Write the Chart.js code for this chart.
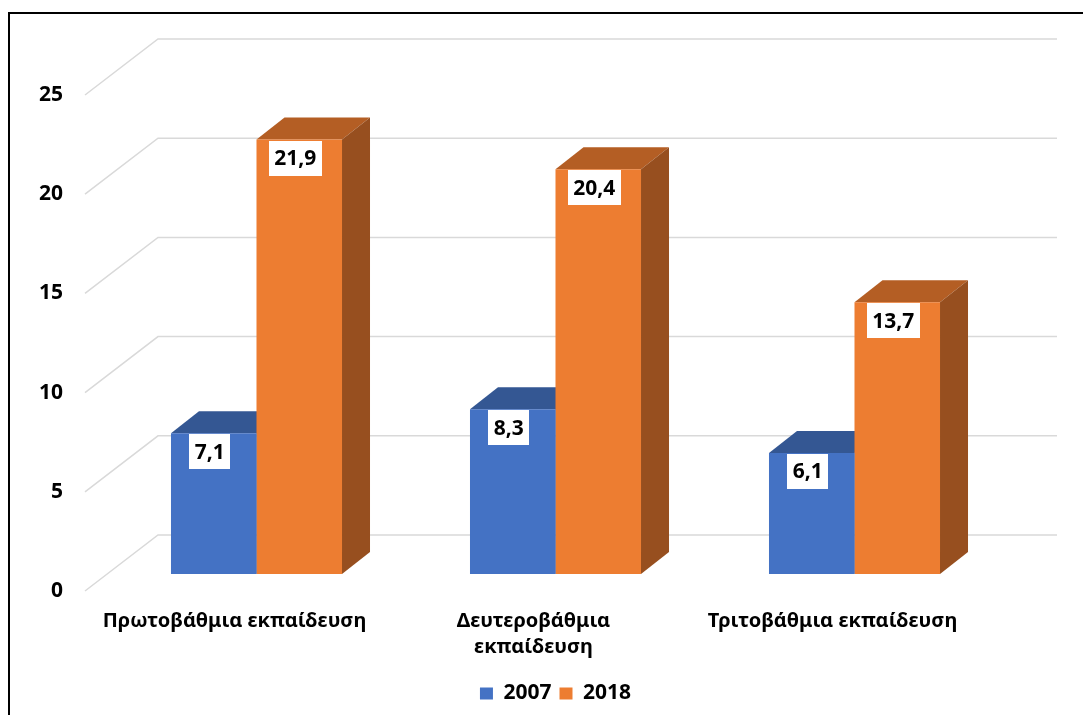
<!DOCTYPE html>
<html>
<head>
<meta charset="utf-8">
<script src="https://cdn.jsdelivr.net/npm/chart.js@4/dist/chart.umd.min.js"></script>
<style>
  html, body { margin: 0; padding: 0; background: #fff; }
  #wrap { position: relative; width: 1083px; height: 715px; }
</style>
</head>
<body>
<div id="wrap"><canvas id="c" width="1083" height="715"></canvas></div>
<script>
// Education level categories and the two survey years
const categories = [
  'Πρωτοβάθμια εκπαίδευση',
  ['Δευτεροβάθμια', 'εκπαίδευση'],
  'Τριτοβάθμια εκπαίδευση'
];
const years = ['2007', '2018'];
const values2007 = [7.1, 8.3, 6.1];
const values2018 = [21.9, 20.4, 13.7];
const yTicks = [0, 5, 10, 15, 20, 25];

const FONT = '"Noto Sans", "DejaVu Sans", sans-serif';

// Oblique 3D geometry (pixel offsets relative to the bar front plane)
const FLOOR_FRONT = { dx: -22, dy: 17 };   // front edge of the floor / axis plane
const BACK_WALL = { dx: 51, dy: -39 };     // back wall carrying the gridlines
const BAR_DEPTH = { dx: 28, dy: -22 };     // depth of each bar

const faceColors = [
  { front: '#4472C4', top: '#345793', side: '#2E4F87' },
  { front: '#ED7D31', top: '#B45E24', side: '#974F1F' }
];

function fmt(v) { return v.toFixed(1).replace('.', ','); }

const frame = {
  id: 'frame',
  beforeDraw(chart) {
    const ctx = chart.ctx;
    ctx.save();
    ctx.strokeStyle = '#000';
    ctx.lineWidth = 2;
    ctx.beginPath();
    ctx.moveTo(9, 715);
    ctx.lineTo(9, 13);
    ctx.lineTo(1083, 13);
    ctx.stroke();
    ctx.restore();
  }
};

const threeD = {
  id: 'threeD',
  beforeDatasetsDraw(chart) {
    const ctx = chart.ctx;
    const y = chart.scales.y;
    const area = chart.chartArea;
    ctx.save();
    // back wall gridlines and their diagonals on the side wall
    ctx.strokeStyle = '#D9D9D9';
    ctx.lineWidth = 1.5;
    y.ticks.forEach(t => {
      const py = y.getPixelForValue(t.value);
      ctx.beginPath();
      ctx.moveTo(area.left + FLOOR_FRONT.dx, py + FLOOR_FRONT.dy);
      ctx.lineTo(area.left + BACK_WALL.dx, py + BACK_WALL.dy);
      ctx.lineTo(area.right + BACK_WALL.dx + 2, py + BACK_WALL.dy);
      ctx.stroke();
    });
    // top and side faces of every bar, drawn before the front faces
    const n = chart.data.labels.length;
    for (let i = 0; i < n; i++) {
      chart.data.datasets.forEach((ds, di) => {
        const bar = chart.getDatasetMeta(di).data[i];
        const { x, y: top, width, base } = bar.getProps(['x', 'y', 'width', 'base'], true);
        const l = x - width / 2, r = x + width / 2;
        const c = faceColors[di];
        ctx.fillStyle = c.top;
        ctx.beginPath();
        ctx.moveTo(l, top);
        ctx.lineTo(l + BAR_DEPTH.dx, top + BAR_DEPTH.dy);
        ctx.lineTo(r + BAR_DEPTH.dx, top + BAR_DEPTH.dy);
        ctx.lineTo(r, top);
        ctx.closePath();
        ctx.fill();
        ctx.fillStyle = c.side;
        ctx.beginPath();
        ctx.moveTo(r, top);
        ctx.lineTo(r + BAR_DEPTH.dx, top + BAR_DEPTH.dy);
        ctx.lineTo(r + BAR_DEPTH.dx, base + BAR_DEPTH.dy);
        ctx.lineTo(r, base);
        ctx.closePath();
        ctx.fill();
      });
    }
    ctx.restore();
  },
  afterDatasetsDraw(chart) {
    const ctx = chart.ctx;
    ctx.save();
    ctx.font = 'bold 21px ' + FONT;
    ctx.textAlign = 'center';
    ctx.textBaseline = 'middle';
    chart.data.datasets.forEach((ds, di) => {
      chart.getDatasetMeta(di).data.forEach((bar, i) => {
        const { x, y: top } = bar.getProps(['x', 'y'], true);
        const txt = fmt(ds.data[i]);
        const w = ctx.measureText(txt).width + 11;
        const h = 35;
        const cx = x - 4;
        const by = top + 1;
        ctx.fillStyle = '#fff';
        ctx.fillRect(Math.round(cx - w / 2), Math.round(by), Math.round(w), h);
        ctx.fillStyle = '#000';
        ctx.fillText(txt, cx, by + h / 2 + 1);
      });
    });
    ctx.restore();
  }
};

new Chart(document.getElementById('c'), {
  type: 'bar',
  data: {
    labels: categories,
    datasets: [
      { label: years[0], data: values2007, backgroundColor: faceColors[0].front, borderWidth: 0 },
      { label: years[1], data: values2018, backgroundColor: faceColors[1].front, borderWidth: 0 }
    ]
  },
  options: {
    responsive: false,
    animation: false,
    devicePixelRatio: 1,
    layout: { padding: { left: 0, right: 79, top: 78, bottom: 1 } },
    datasets: { bar: { categoryPercentage: 0.572, barPercentage: 1 } },
    scales: {
      x: {
        grid: { display: false, drawTicks: false },
        border: { display: false },
        ticks: {
          color: '#000',
          font: { family: FONT, size: 20, weight: 'bold', lineHeight: 1.3 },
          padding: 34,
          labelOffset: FLOOR_FRONT.dx,
          maxRotation: 0,
          autoSkip: false
        },
        afterFit(s) { s.height = 101; }
      },
      y: {
        min: 0,
        max: 25,
        grid: { display: false, drawTicks: false },
        border: { display: false },
        afterBuildTicks(s) { s.ticks = yTicks.map(v => ({ value: v })); },
        ticks: {
          color: '#000',
          font: { family: FONT, size: 21, weight: 'bold' },
          padding: 44,
          labelOffset: FLOOR_FRONT.dy
        },
        afterFit(s) { s.width = 107; }
      }
    },
    plugins: {
      legend: {
        position: 'bottom',
        fullSize: false,
        labels: {
          color: '#000',
          font: { family: FONT, size: 21, weight: 'bold' },
          boxWidth: 13,
          boxHeight: 12,
          padding: 8
        }
      },
      tooltip: { enabled: false }
    }
  },
  plugins: [frame, threeD]
});
</script>
</body>
</html>
